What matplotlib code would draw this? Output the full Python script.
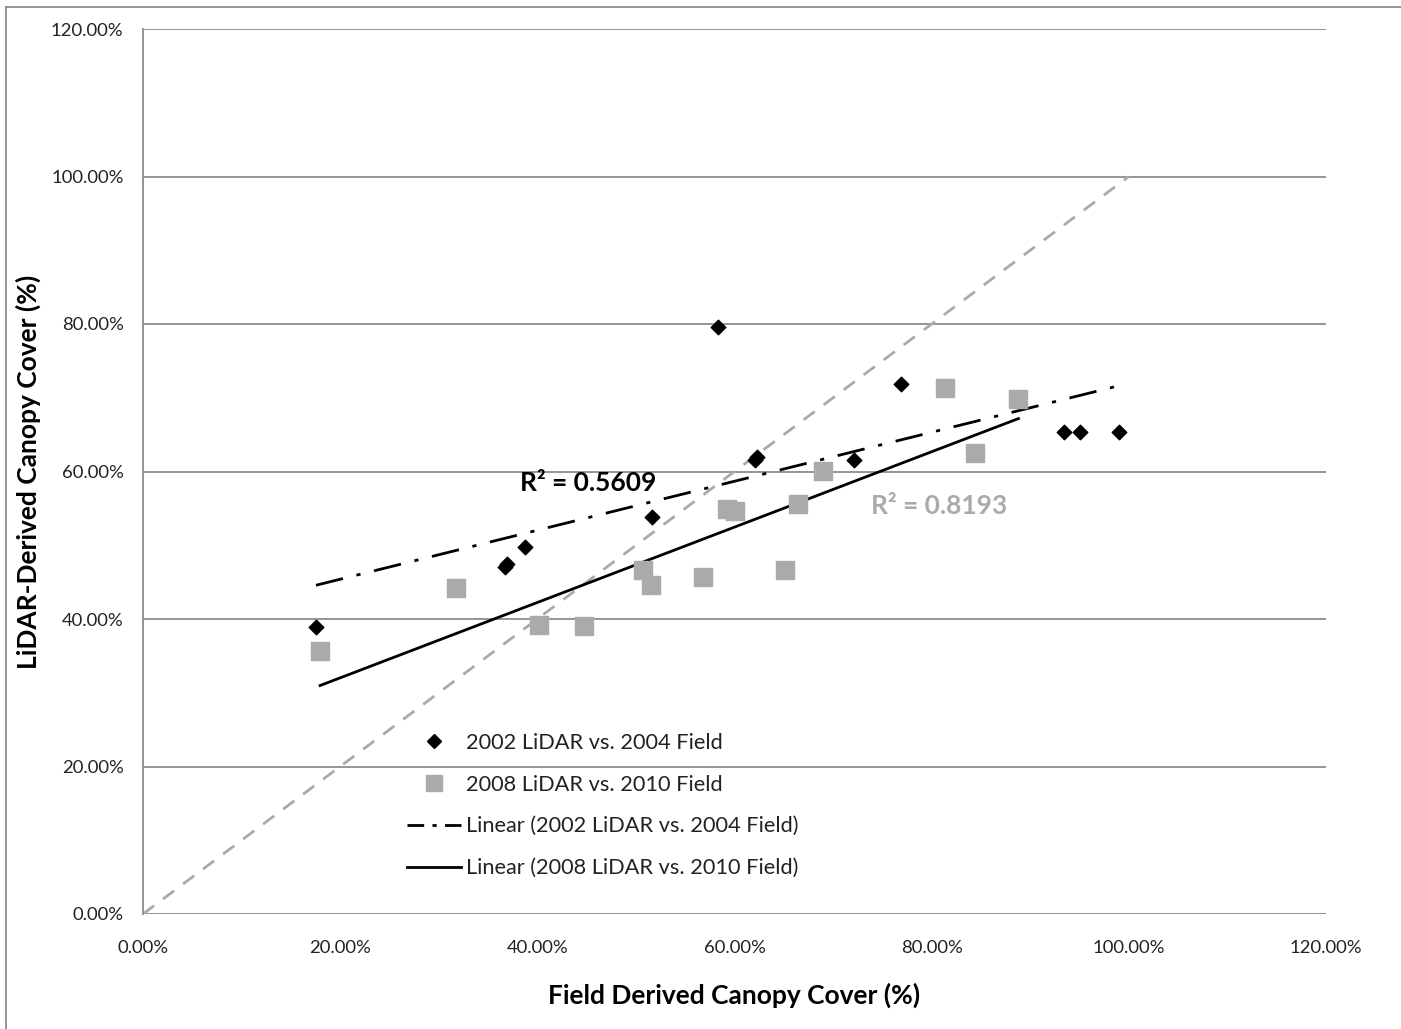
import numpy as np
import matplotlib
matplotlib.use("Agg")
import matplotlib.pyplot as plt
from matplotlib.lines import Line2D
from matplotlib.ticker import FuncFormatter

plt.rcParams['font.family'] = ['Lato', 'DejaVu Sans']

# 2002 LiDAR vs. 2004 field plots (fractions)
field_2004 = [0.1755, 0.367, 0.369, 0.3875, 0.516, 0.583, 0.621, 0.623,
              0.721, 0.769, 0.934, 0.950, 0.990]
lidar_2002 = [0.389, 0.470, 0.474, 0.4976, 0.538, 0.796, 0.616, 0.620,
              0.616, 0.718, 0.654, 0.654, 0.654]

# 2008 LiDAR vs. 2010 field plots (fractions)
field_2010 = [0.1796, 0.3175, 0.402, 0.447, 0.507, 0.515, 0.568, 0.592,
              0.600, 0.651, 0.664, 0.690, 0.814, 0.844, 0.888]
lidar_2008 = [0.3563, 0.4416, 0.392, 0.391, 0.467, 0.446, 0.4565, 0.549,
              0.546, 0.467, 0.556, 0.601, 0.713, 0.6246, 0.698]

r2_2002 = "0.5609"
r2_2008 = "0.8193"

ticks = [0.0, 0.2, 0.4, 0.6, 0.8, 1.0, 1.2]

fig = plt.figure(figsize=(14.01, 10.29), dpi=100)
ax = fig.add_axes([143 / 1401, 1 - 914 / 1029, (1326 - 143) / 1401, (914 - 29) / 1029])

grey_grid = '#8c8c8c'
ax.set_xlim(0, 1.2)
ax.set_ylim(0, 1.2)
ax.set_xticks(ticks)
ax.set_yticks(ticks)
pct = FuncFormatter(lambda v, p: f"{v * 100:.2f}%")
ax.xaxis.set_major_formatter(pct)
ax.yaxis.set_major_formatter(pct)
ax.tick_params(length=0, labelsize=13.3, colors='#222222')
ax.tick_params(axis='y', pad=14)
ax.tick_params(axis='x', pad=19)
for s in ['top', 'right', 'bottom']:
    ax.spines[s].set_visible(False)
ax.spines['left'].set_color(grey_grid)
ax.spines['left'].set_linewidth(1.3)
ax.grid(axis='y', color=grey_grid, linewidth=1.3)
ax.set_axisbelow(True)

# 1:1 reference line
ax.plot([0, 1], [0, 1], linestyle=(0, (5, 4)), color='#aaaaaa', linewidth=2, zorder=1)

# Linear trendlines fitted over each series' x-range
x1 = np.array(field_2004); y1 = np.array(lidar_2002)
x2 = np.array(field_2010); y2 = np.array(lidar_2008)
m1, b1 = np.polyfit(x1, y1, 1)
m2, b2 = np.polyfit(x2, y2, 1)
xs1 = np.array([x1.min(), x1.max()])
xs2 = np.array([x2.min(), x2.max()])
ax.plot(xs1, m1 * xs1 + b1, color='black', linewidth=2,
        linestyle=(0, (10, 5, 1.5, 5)), zorder=2)
ax.plot(xs2, m2 * xs2 + b2, color='black', linewidth=2, zorder=2)

ax.scatter(x1, y1, marker='D', s=55, color='black', zorder=4)
ax.scatter(x2, y2, marker='s', s=150, color='#aaaaaa', zorder=3)

ax.text((520 - 143) / 985.8, (914 - 483) / 737.5, f"R² = {r2_2002}", fontsize=19,
        fontweight='bold', color='black', ha='left', va='center')
ax.text((871 - 143) / 985.8, (914 - 506) / 737.5, f"R² = {r2_2008}", fontsize=19,
        fontweight='bold', color='#aaaaaa', ha='left', va='center')

handles = [
    Line2D([], [], linestyle='none', marker='D', markersize=7, color='black'),
    Line2D([], [], linestyle='none', marker='s', markersize=11, color='#aaaaaa'),
    Line2D([], [], color='black', linewidth=2, linestyle=(0, (6, 3, 1.5, 3))),
    Line2D([], [], color='black', linewidth=2),
]
labels = ["2002 LiDAR vs. 2004 Field", "2008 LiDAR vs. 2010 Field",
          "Linear (2002 LiDAR vs. 2004 Field)", "Linear (2008 LiDAR vs. 2010 Field)"]
leg = ax.legend(handles, labels, loc='upper left',
                bbox_to_anchor=(255 / 1183, (914 - 724) / 885),
                frameon=False, fontsize=15.7, handlelength=2.48, handletextpad=0.25,
                labelspacing=1.0, borderaxespad=0)
for t in leg.get_texts():
    t.set_color('#222222')

ax.set_xlabel("Field Derived Canopy Cover (%)", fontsize=19, fontweight='bold')
ax.xaxis.set_label_coords((734 - 143) / 1183, -(995 - 914) / 885, transform=ax.transAxes)
ax.xaxis.label.set_va('center')
ax.set_ylabel("LiDAR-Derived Canopy Cover (%)", fontsize=19, fontweight='bold')
ax.yaxis.set_label_coords(-(143 - 28) / 1183, (914 - 472) / 885, transform=ax.transAxes)
ax.yaxis.label.set_va('center')

# outer chart border (left and top edges)
fig.add_artist(Line2D([6 / 1401, 6 / 1401], [0, 1 - 7 / 1029], color='#8c8c8c',
                      linewidth=1.3, transform=fig.transFigure))
fig.add_artist(Line2D([6 / 1401, 1], [1 - 7 / 1029, 1 - 7 / 1029], color='#8c8c8c',
                      linewidth=1.3, transform=fig.transFigure))

fig.savefig("out.png", dpi=100)
